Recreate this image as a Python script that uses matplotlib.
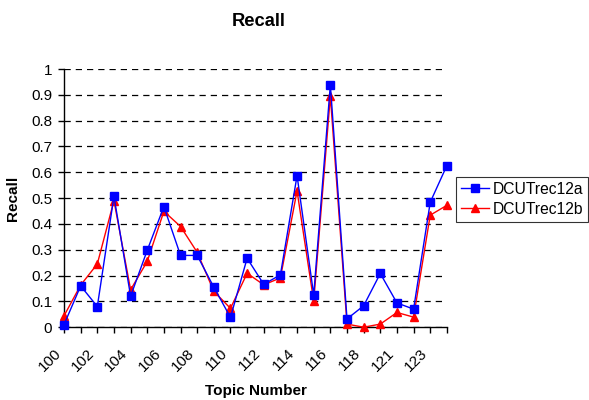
import matplotlib
matplotlib.use("Agg")
import matplotlib.pyplot as plt
from matplotlib.transforms import ScaledTranslation

plt.rcParams['font.family'] = ['Liberation Sans', 'DejaVu Sans']

topics = [100, 101, 102, 103, 104, 105, 106, 107, 108, 109, 110, 111,
          112, 113, 114, 115, 116, 117, 118, 120, 121, 122, 123, 124]
recall_a = [0.01, 0.16, 0.08, 0.507, 0.12, 0.298, 0.467, 0.278, 0.278, 0.155,
            0.038, 0.267, 0.166, 0.203, 0.587, 0.125, 0.939, 0.032, 0.083,
            0.208, 0.094, 0.07, 0.484, 0.626]
recall_b = [0.044, 0.163, 0.245, 0.49, 0.145, 0.255, 0.449, 0.39, 0.29, 0.139,
            0.073, 0.209, 0.164, 0.191, 0.528, 0.1, 0.895, 0.012, 0.0,
            0.012, 0.057, 0.039, 0.434, 0.472]

fig = plt.figure(figsize=(5.89, 4.0), dpi=100)
ax = fig.add_axes([0.1087, 0.182, 0.65, 0.6455])

x = list(range(len(topics)))
ax.plot(x, recall_a, color='#0000ff', marker='s', markersize=5.2, linewidth=1.0,
        label='DCUTrec12a', clip_on=False, zorder=4)
ax.plot(x, recall_b, color='#ff0000', marker='^', markersize=5.8, linewidth=1.0,
        label='DCUTrec12b', clip_on=False, zorder=3)

ax.set_xlim(0, len(topics) - 1)
ax.set_ylim(0, 1)
ax.set_yticks([i / 10 for i in range(11)])
ax.set_yticklabels(['0'] + ['0.%d' % i for i in range(1, 10)] + ['1'], fontsize=11)
ax.set_xticks(x)
ax.set_xticklabels([str(t) if i % 2 == 0 else '' for i, t in enumerate(topics)],
                   rotation=45, ha='right', rotation_mode='anchor', fontsize=11)
ax.tick_params(axis='x', direction='out', length=4, width=1, pad=3)
ax.tick_params(axis='y', direction='out', length=4.5, width=1, pad=4)
# nudge the slanted labels down-left like the original
offset = ScaledTranslation(-0.10, -0.09, fig.dpi_scale_trans)
for lbl in ax.get_xticklabels():
    lbl.set_transform(lbl.get_transform() + offset)

ax.grid(True, axis='y', color='black', linestyle=(0, (5, 4)), linewidth=0.9)
ax.set_axisbelow(True)
for s in ['top', 'right']:
    ax.spines[s].set_visible(False)
ax.spines['left'].set_linewidth(1)
ax.spines['bottom'].set_linewidth(1)

ax.set_xlabel('Topic Number', fontsize=11, fontweight='bold', va='center')
ax.xaxis.set_label_coords(0.5, -0.247)
ax.set_ylabel('Recall', fontsize=11, fontweight='bold', va='center')
ax.yaxis.set_label_coords(-0.133, 0.5)
fig.text(0.44, 0.945, 'Recall', ha='center', va='center', fontsize=13.25, fontweight='bold')

leg = ax.legend(loc='center left', bbox_to_anchor=(1.024, 0.495), fontsize=11.25,
                frameon=True, fancybox=False, edgecolor='black', handlelength=1.8,
                borderpad=0.3, labelspacing=0.32, handletextpad=0.25, borderaxespad=0)
leg.get_frame().set_linewidth(0.8)

fig.savefig('out.png', dpi=100)
